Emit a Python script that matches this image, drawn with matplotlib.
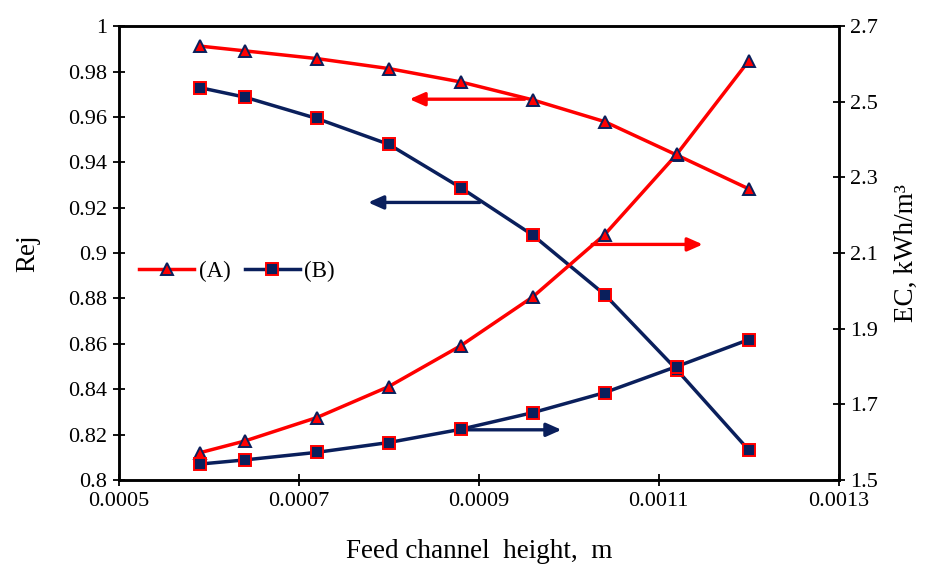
import numpy as np
import matplotlib.pyplot as plt

plt.rcParams['font.family'] = ['Liberation Serif', 'DejaVu Serif']

# feed channel height, m
height_m = [0.00059, 0.00064, 0.00072, 0.00080, 0.00088, 0.00096, 0.00104, 0.00112, 0.00120]

# rejection (left axis)
rej_A = [0.9912, 0.9891, 0.9857, 0.9813, 0.9754, 0.9675, 0.9579, 0.9432, 0.9283]
rej_B = [0.9729, 0.9687, 0.9593, 0.9479, 0.9288, 0.9079, 0.8817, 0.8486, 0.8132]

# energy consumption, kWh/m3 (right axis)
ec_A = [1.572, 1.603, 1.665, 1.747, 1.855, 1.984, 2.149, 2.361, 2.608]
ec_B = [1.542, 1.553, 1.573, 1.599, 1.634, 1.678, 1.731, 1.800, 1.871]

red = "#FF0000"
navy = "#0A1F5C"

fig = plt.figure(figsize=(9.36, 5.68), dpi=100)
ax = fig.add_axes([0.127, 0.155, 0.769, 0.799])
ax2 = ax.twinx()

styleA = dict(color=red, lw=2.5, marker="^", ms=8.5, mfc=red, mec=navy, mew=1.4)
styleB = dict(color=navy, lw=2.5, marker="s", ms=8, mfc=navy, mec=red, mew=1.4)

lA, = ax.plot(height_m, rej_A, **styleA)
lB, = ax.plot(height_m, rej_B, **styleB)
ax2.plot(height_m, ec_A, **styleA)
ax2.plot(height_m, ec_B, **styleB)

ax.set_xlim(0.0005, 0.0013)
ax.set_ylim(0.8, 1.0)
ax2.set_ylim(1.5, 2.7)
ax.set_xticks([0.0005, 0.0007, 0.0009, 0.0011, 0.0013])
ax.set_xticklabels(["0.0005", "0.0007", "0.0009", "0.0011", "0.0013"])
ax.set_yticks(np.arange(0.8, 1.001, 0.02))
ax.set_yticklabels(["0.8", "0.82", "0.84", "0.86", "0.88", "0.9", "0.92", "0.94", "0.96", "0.98", "1"])
ax2.set_yticks([1.5, 1.7, 1.9, 2.1, 2.3, 2.5, 2.7])
ax2.set_yticklabels(["1.5", "1.7", "1.9", "2.1", "2.3", "2.5", "2.7"])

ax.tick_params(direction="inout", length=9, width=1.3, labelsize=16, pad=4)
ax2.tick_params(direction="inout", length=9, width=1.3, labelsize=16, pad=4)
for a in (ax, ax2):
    for s in a.spines.values():
        s.set_linewidth(1.8)

ax.set_ylabel("Rej", fontsize=19.5, labelpad=20)
ax2.set_ylabel("EC, kWh/m³", fontsize=19.5, labelpad=11)
ax.set_xlabel("Feed channel  height,  m", fontsize=19.5, labelpad=20)

# arrows pointing to the axis each curve belongs to
def arrow(x0, x1, y, c):
    ax.annotate("", xy=(x1, y), xytext=(x0, y),
                arrowprops=dict(arrowstyle="-|>,head_length=0.9,head_width=0.4",
                                color=c, lw=2.4, shrinkA=0, shrinkB=0))

arrow(0.000951, 0.000823, 0.9678, red)
arrow(0.000901, 0.000777, 0.9223, navy)
arrow(0.001026, 0.001149, 0.9038, red)
arrow(0.000877, 0.000992, 0.8221, navy)

ax.legend([lA, lB], ["(A)", "(B)"], ncol=2, frameon=False, fontsize=16.5,
          loc="center left", bbox_to_anchor=(0.0, 0.46), handlelength=2.4,
          columnspacing=0.6, handletextpad=0.2)

fig.savefig("out.png", dpi=100)
